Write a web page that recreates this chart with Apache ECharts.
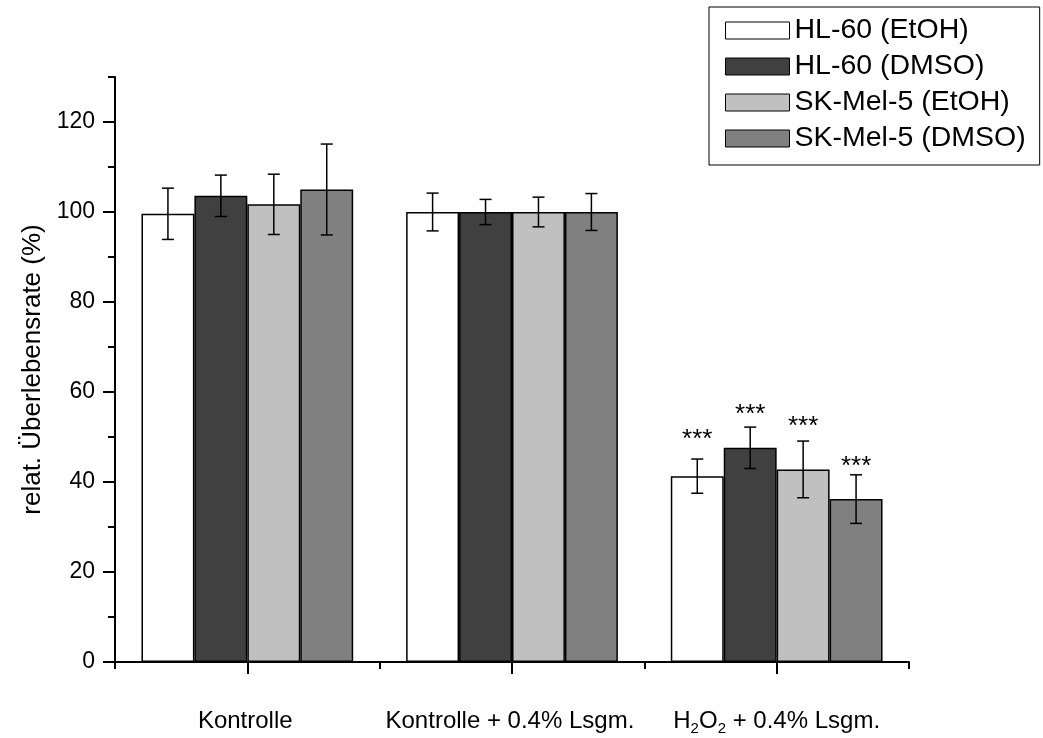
<!DOCTYPE html>
<html><head><meta charset="utf-8">
<script src="https://cdn.jsdelivr.net/npm/echarts@6/dist/echarts.min.js"></script>
<style>html,body{margin:0;padding:0;background:#fff}#c{width:1043px;height:738px}</style>
</head><body><div id="c"></div>
<script>
// ---- data ----
const categories = ['Kontrolle', 'Kontrolle + 0.4% Lsgm.', 'H2O2 + 0.4% Lsgm.'];
const seriesNames = ['HL-60 (EtOH)', 'HL-60 (DMSO)', 'SK-Mel-5 (EtOH)', 'SK-Mel-5 (DMSO)'];
const hl60EtOH = [99.6, 100.0, 41.3];
const hl60DMSO = [103.6, 100.0, 47.6];
const skMelEtOH = [101.7, 100.0, 42.8];
const skMelDMSO = [105.0, 100.0, 36.2];
const hl60EtOHErr = [5.7, 4.2, 3.8];
const hl60DMSOErr = [4.6, 2.8, 4.6];
const skMelEtOHErr = [6.7, 3.3, 6.3];
const skMelDMSOErr = [10.1, 4.1, 5.4];
const significance = ['', '', '***'];
// vertical position (in % units) of the significance marks for each series in the group with marks
const starLevel = [50.8, 56.3, 53.7, 44.7];
const yMajorTicks = [0, 20, 40, 60, 80, 100, 120];

const means = [hl60EtOH, hl60DMSO, skMelEtOH, skMelDMSO];
const errs = [hl60EtOHErr, hl60DMSOErr, skMelEtOHErr, skMelDMSOErr];
const colors = ['#ffffff', '#404040', '#c0c0c0', '#808080'];
const FONT = 'Liberation Sans, Arial, sans-serif';

const errData = [];
for (let s = 0; s < 4; s++) {
  for (let i = 0; i < categories.length; i++) {
    errData.push([i, s, means[s][i], errs[s][i], significance[i] ? starLevel[s] : null]);
  }
}

function fmtCat(v) {
  const t = v.replace(/H2O2/, 'H{sub|2}O{sub|2}');
  const parts = t.split(/(\{sub\|2\})/);
  let out = '';
  parts.forEach(p => { if (!p) return; if (p.startsWith('{sub')) out += p; else out += '{n|' + p + '}'; });
  if (t === v) out += '{sub| }';
  return out;
}

const chart = echarts.init(document.getElementById('c'), null, {renderer: 'canvas'});
const option = {
  animation: false,
  backgroundColor: '#ffffff',
  textStyle: {fontFamily: FONT, color: '#000'},
  grid: {left: 115, right: 134, top: 77, bottom: 76, containLabel: false},
  legend: {
    data: seriesNames.map(n => ({name: n, icon: 'rect'})),
    orient: 'vertical',
    left: 709, top: 7,
    padding: [9, 14, 12, 16],
    itemGap: 7,
    itemWidth: 64, itemHeight: 17,
    borderColor: '#000', borderWidth: 1,
    backgroundColor: '#fff',
    textStyle: {fontSize: 28.5, fontFamily: FONT, color: '#000'},
    itemStyle: {borderColor: '#000', borderWidth: 1}
  },
  xAxis: [{
    type: 'category', data: categories, boundaryGap: true,
    axisLine: {lineStyle: {color: '#000', width: 2}},
    axisTick: {show: true, length: 7, lineStyle: {color: '#000', width: 2}},
    axisLabel: {
      interval: 0,
      margin: 45, color: '#000', fontFamily: FONT,
      formatter: fmtCat,
      rich: {
        n: {fontSize: 24, fontFamily: FONT, color: '#000'},
        sub: {fontSize: 15, fontFamily: FONT, color: '#000', padding: [14, 0, 0, 0], verticalAlign: 'bottom'}
      }
    },
    splitLine: {show: false}
  }, {
    type: 'category', data: categories, boundaryGap: true, position: 'bottom',
    axisLine: {show: false},
    axisTick: {show: true, alignWithLabel: true, length: 12, lineStyle: {color: '#000', width: 2}},
    axisLabel: {show: false},
    splitLine: {show: false}
  }],
  yAxis: [{
    type: 'value', min: 0, max: 130, interval: 10,
    name: 'relat. Überlebensrate (%)', nameLocation: 'middle', nameGap: 64,
    nameTextStyle: {fontSize: 26, fontFamily: FONT, color: '#000'},
    axisLine: {show: true, lineStyle: {color: '#000', width: 2}},
    axisTick: {show: true, length: 7, lineStyle: {color: '#000', width: 2}},
    axisLabel: {
      fontSize: 23, fontFamily: FONT, color: '#000', margin: 20,
      formatter: v => (yMajorTicks.indexOf(v) >= 0 ? String(v) : '')
    },
    splitLine: {show: false}
  }, {
    type: 'value', min: 0, max: 130, interval: 10, position: 'left',
    axisLine: {show: false},
    axisTick: {show: true, length: 12, customValues: yMajorTicks, lineStyle: {color: '#000', width: 2}},
    axisLabel: {show: false},
    splitLine: {show: false}
  }],
  series: seriesNames.map((name, s) => ({
    name, type: 'bar', data: means[s],
    xAxisIndex: 0, yAxisIndex: 0,
    barGap: '0%', barCategoryGap: '20%',
    itemStyle: {color: colors[s], borderColor: '#000', borderWidth: 1.5}
  })).concat([{
    type: 'custom', name: 'err', xAxisIndex: 0, yAxisIndex: 0, z: 10,
    data: errData,
    encode: {x: 0, y: 2},
    renderItem(params, api) {
      const i = api.value(0), s = api.value(1), m = api.value(2), e = api.value(3), lvl = api.value(4);
      const c = api.coord([i, m]);
      const band = api.size([1, 0])[0];
      const bw = band * 0.8 / 4;
      const x = c[0] + (s - 1.5) * bw;
      const yTop = api.coord([i, m + e])[1];
      const yBot = api.coord([i, m - e])[1];
      const cap = 6;
      const st = {stroke: '#000', lineWidth: 1.5};
      const children = [
        {type: 'line', shape: {x1: x, y1: yTop, x2: x, y2: yBot}, style: st},
        {type: 'line', shape: {x1: x - cap, y1: yTop, x2: x + cap, y2: yTop}, style: st},
        {type: 'line', shape: {x1: x - cap, y1: yBot, x2: x + cap, y2: yBot}, style: st}
      ];
      if (lvl != null && !isNaN(lvl) && significance[i]) {
        const ys = api.coord([i, lvl])[1];
        children.push({type: 'text', x: x, y: ys + 6, style: {text: significance[i], fontSize: 26, fontFamily: FONT, fill: '#000', align: 'center', verticalAlign: 'middle'}});
      }
      return {type: 'group', children};
    }
  }])
};
chart.setOption(option);
</script>
</body></html>
